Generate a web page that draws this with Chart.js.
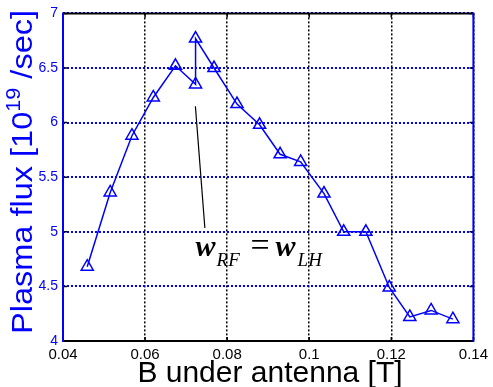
<!DOCTYPE html>
<html>
<head>
<meta charset="utf-8">
<script src="https://cdn.jsdelivr.net/npm/chart.js"></script>
<style>
  html, body { margin: 0; padding: 0; background: #fff; }
  #wrap { width: 493px; height: 387px; }
</style>
</head>
<body>
<div id="wrap"><canvas id="fluxChart" width="493" height="387"></canvas></div>
<script>
// B under antenna [T] vs plasma flux [10^19 /sec]
const bField = [0.0459, 0.0515, 0.0568, 0.0620, 0.0674, 0.0723, 0.0723, 0.0768, 0.0824, 0.0879,
                0.0929, 0.0979, 0.1036, 0.1084, 0.1138, 0.1195, 0.1245, 0.1297, 0.1350];
const flux = [4.68, 5.36, 5.88, 6.23, 6.52, 6.35, 6.77, 6.50, 6.17, 5.98,
              5.71, 5.64, 5.35, 5.00, 5.00, 4.49, 4.22, 4.28, 4.20];

const xTickLabels = ['0.04', '0.06', '0.08', '0.1', '0.12', '0.14'];
const yTickLabels = ['4', '4.5', '5', '5.5', '6', '6.5', '7'];

// annotation: pointer line (data coords) and label anchor
const arrowX = [0.07226, 0.07457];
const arrowY = [6.15, 5.035];
const noteAt = [0.0723, 4.78];

const BLUE = '#0000ff';
const SANS = '"Liberation Sans", Arial, sans-serif';
const SERIF = '"Liberation Serif", "Times New Roman", serif';

const decor = {
    id: 'decor',
    afterDraw(chart) {
        const { ctx, chartArea: a, scales: { x, y } } = chart;
        ctx.save();

        // small inward tick marks, like matlab
        ctx.strokeStyle = '#000';
        ctx.lineWidth = 1.5;
        ctx.beginPath();
        x.ticks.forEach(t => {
            const p = x.getPixelForValue(t.value);
            ctx.moveTo(p, a.bottom); ctx.lineTo(p, a.bottom - 4);
            ctx.moveTo(p, a.top); ctx.lineTo(p, a.top + 4);
        });
        y.ticks.forEach(t => {
            const p = y.getPixelForValue(t.value);
            ctx.moveTo(a.left, p); ctx.lineTo(a.left + 4, p);
            ctx.moveTo(a.right, p); ctx.lineTo(a.right - 4, p);
        });
        ctx.stroke();

        // frame: black top/bottom, blue left/right
        ctx.lineWidth = 2;
        ctx.strokeStyle = '#000';
        ctx.beginPath();
        ctx.moveTo(a.left, a.top); ctx.lineTo(a.right, a.top);
        ctx.moveTo(a.left, a.bottom); ctx.lineTo(a.right, a.bottom);
        ctx.stroke();
        ctx.strokeStyle = BLUE;
        ctx.beginPath();
        ctx.moveTo(a.left, a.top - 1); ctx.lineTo(a.left, a.bottom + 1);
        ctx.moveTo(a.right, a.top - 1); ctx.lineTo(a.right, a.bottom + 1);
        ctx.stroke();

        // pointer line
        ctx.strokeStyle = '#000';
        ctx.lineWidth = 1.2;
        ctx.beginPath();
        ctx.moveTo(x.getPixelForValue(arrowX[0]), y.getPixelForValue(arrowY[0]));
        ctx.lineTo(x.getPixelForValue(arrowX[1]), y.getPixelForValue(arrowY[1]));
        ctx.stroke();

        // w_RF = w_LH
        const px = x.getPixelForValue(noteAt[0]);
        const py = y.getPixelForValue(noteAt[1]);
        ctx.fillStyle = '#000';
        ctx.textBaseline = 'alphabetic';
        ctx.textAlign = 'left';
        const parts = [
            ['bold italic 30px ' + SERIF, 'w', 0, 0],
            ['italic 19px ' + SERIF, 'RF', 21, 10],
            ['34px ' + SERIF, '=', 55, 0],
            ['bold italic 30px ' + SERIF, 'w', 80, 0],
            ['italic 19px ' + SERIF, 'LH', 102, 10]
        ];
        parts.forEach(([font, txt, dx, dy]) => {
            ctx.font = font;
            ctx.fillText(txt, px + dx, py + dy);
        });

        // x title
        ctx.font = '30px ' + SANS;
        ctx.textAlign = 'center';
        ctx.fillText('B under antenna [T]', 270, 382);

        // y title with superscript, rotated
        ctx.fillStyle = BLUE;
        ctx.translate(32, 172);
        ctx.rotate(-Math.PI / 2);
        const yParts = [
            ['30px ' + SANS, 'Plasma flux [10', 0],
            ['20px ' + SANS, '19', -12],
            ['30px ' + SANS, ' /sec]', 0]
        ];
        let total = 0;
        yParts.forEach(([font, txt]) => { ctx.font = font; total += ctx.measureText(txt).width; });
        const target = 324;
        ctx.scale(target / total, 1);
        let tx = -total / 2;
        ctx.textAlign = 'left';
        yParts.forEach(([font, txt, dy]) => {
            ctx.font = font;
            ctx.fillText(txt, tx, dy);
            tx += ctx.measureText(txt).width;
        });
        ctx.restore();
    }
};

new Chart(document.getElementById('fluxChart').getContext('2d'), {
    type: 'scatter',
    data: {
        datasets: [{
            data: bField.map((b, i) => ({ x: b, y: flux[i] })),
            showLine: true,
            borderColor: BLUE,
            borderWidth: 1.5,
            pointStyle: 'triangle',
            pointRadius: 7,
            pointBorderWidth: 1.5,
            pointBorderColor: BLUE,
            pointBackgroundColor: 'rgba(0,0,0,0)',
            tension: 0
        }]
    },
    options: {
        responsive: false,
        animation: false,
        layout: { padding: { top: 12, right: 13, left: 0, bottom: 0 } },
        plugins: { legend: { display: false }, tooltip: { enabled: false } },
        scales: {
            x: {
                type: 'linear', min: 0.04, max: 0.14,
                afterFit: s => { s.height = 46; },
                afterBuildTicks: s => { s.ticks = xTickLabels.map(v => ({ value: parseFloat(v) })); },
                ticks: {
                    color: '#000', font: { family: SANS, size: 15 }, padding: 5,
                    maxRotation: 0, autoSkip: false,
                    callback: (v, i) => xTickLabels[i]
                },
                grid: { color: '#000', lineWidth: 1.5, drawTicks: false },
                border: { display: false, dash: [2, 2] }
            },
            y: {
                type: 'linear', min: 4, max: 7,
                afterFit: s => { s.width = 63; },
                afterBuildTicks: s => { s.ticks = yTickLabels.map(v => ({ value: parseFloat(v) })); },
                ticks: {
                    color: BLUE, font: { family: SANS, size: 14 }, padding: 5,
                    autoSkip: false,
                    callback: (v, i) => yTickLabels[i]
                },
                grid: { color: BLUE, lineWidth: 2, drawTicks: false },
                border: { display: false, dash: [2, 2] }
            }
        }
    },
    plugins: [decor]
});
</script>
</body>
</html>
